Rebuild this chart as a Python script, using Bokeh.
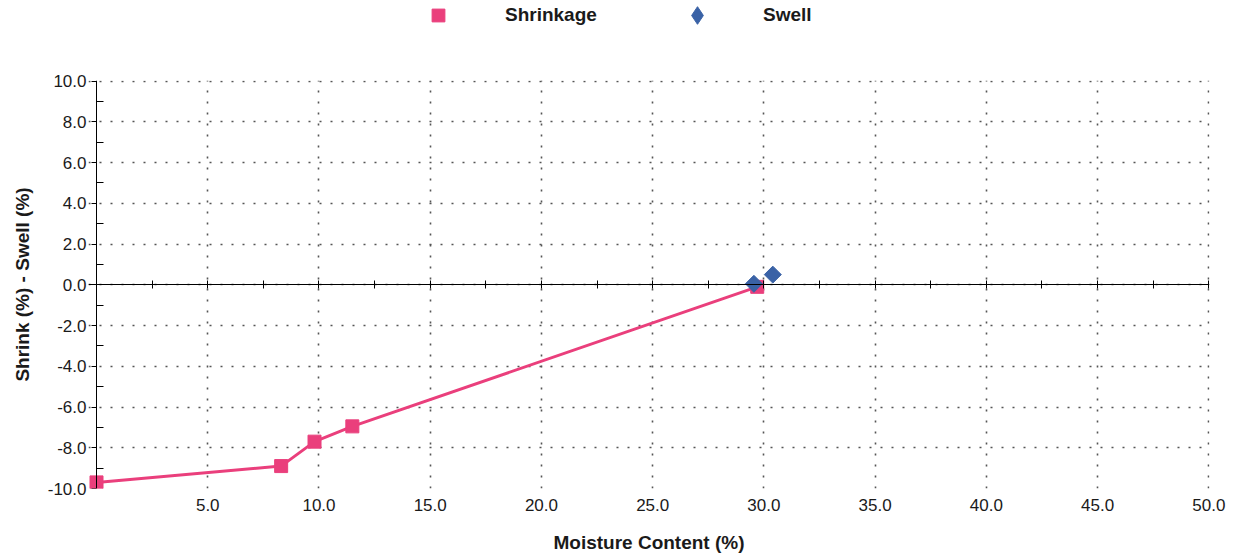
import numpy as np
from bokeh.plotting import figure
from bokeh.layouts import column
from bokeh.models import (Range1d, LinearAxis, FixedTicker, PrintfTickFormatter,
                          CustomJSTickFormatter, Legend, LegendItem)
from bokeh.embed import file_html
from bokeh.resources import INLINE

# ---- data ----
shrink_mc = [0.0, 8.3, 9.8, 11.5, 29.7]
shrink_val = [-9.7, -8.9, -7.7, -6.95, -0.1]
swell_mc = [29.55, 30.4]
swell_val = [0.05, 0.5]

# ---- ticks ----
y_major_ticks = [-10, -8, -6, -4, -2, 0, 2, 4, 6, 8, 10]
y_minor_ticks = [-9, -7, -5, -3, -1, 1, 3, 5, 7, 9]
x_label_ticks = [5, 10, 15, 20, 25, 30, 35, 40, 45, 50]
x_zero_ticks = [2.5, 5, 7.5, 10, 12.5, 15, 17.5, 20, 22.5, 25, 27.5, 30,
                32.5, 35, 37.5, 40, 42.5, 45, 47.5, 50]

PINK = "#EA3F7C"
BLUE = "#3A62A6"
FONT = "Liberation Sans"
TXT = "#1a1a1a"
EMPTY = CustomJSTickFormatter(code="return ''")

# ---------------- main chart ----------------
p = figure(width=1233, height=487, x_range=Range1d(-0.36, 50.03), y_range=Range1d(-10, 10.03),
           output_backend="svg", toolbar_location=None,
           min_border_left=88, min_border_right=24, min_border_top=10, min_border_bottom=69)
p.outline_line_color = None
p.background_fill_color = "white"
p.border_fill_color = "white"

# bottom labelled axis (no line / ticks)
xa = p.xaxis[0]
xa.ticker = FixedTicker(ticks=x_label_ticks, minor_ticks=[])
xa.formatter = PrintfTickFormatter(format="%.1f")
xa.axis_line_color = None
xa.major_tick_line_color = None
xa.minor_tick_line_color = None
xa.major_tick_in = 0
xa.major_tick_out = 0
xa.minor_tick_in = 0
xa.minor_tick_out = 0
xa.major_label_standoff = 10
xa.major_label_text_font = FONT
xa.major_label_text_font_size = "17px"
xa.major_label_text_color = TXT
xa.axis_label = "Moisture Content (%)"
xa.axis_label_text_font = FONT
xa.axis_label_text_font_style = "bold"
xa.axis_label_text_font_size = "19px"
xa.axis_label_text_color = TXT
xa.axis_label_standoff = 18

# left labelled axis (labels + title only)
ya = p.yaxis[0]
ya.ticker = FixedTicker(ticks=y_major_ticks, minor_ticks=[])
ya.formatter = PrintfTickFormatter(format="%.1f")
ya.axis_line_color = None
ya.major_tick_line_color = None
ya.minor_tick_line_color = None
ya.major_tick_in = 0
ya.major_tick_out = 0
ya.minor_tick_in = 0
ya.minor_tick_out = 0
ya.major_label_standoff = 2
ya.major_label_text_font = FONT
ya.major_label_text_font_size = "17px"
ya.major_label_text_color = TXT
ya.axis_label = "Shrink (%) - Swell (%)"
ya.axis_label_text_font = FONT
ya.axis_label_text_font_style = "bold"
ya.axis_label_text_font_size = "19px"
ya.axis_label_text_color = TXT
ya.axis_label_standoff = 12

# y axis line and ticks pinned at x = 0
yline = LinearAxis(fixed_location=0,
                   ticker=FixedTicker(ticks=y_major_ticks, minor_ticks=y_minor_ticks),
                   formatter=EMPTY,
                   axis_line_color="black", major_tick_line_color="black",
                   minor_tick_line_color="black",
                   major_tick_in=0, major_tick_out=5, minor_tick_in=7, minor_tick_out=0,
                   major_label_text_font_size="1px")
p.add_layout(yline, "left")

# zero line axis with ticks both sides
za = LinearAxis(fixed_location=0,
                ticker=FixedTicker(ticks=x_zero_ticks, minor_ticks=[]),
                formatter=EMPTY,
                axis_line_color="black", axis_line_width=1,
                major_tick_line_color="black", major_tick_in=4, major_tick_out=4,
                minor_tick_line_color=None, minor_tick_in=0, minor_tick_out=0,
                major_label_text_font_size="1px")
p.add_layout(za, "below")

# grids
p.xgrid[0].ticker = FixedTicker(ticks=x_label_ticks, minor_ticks=[])
p.ygrid[0].ticker = FixedTicker(ticks=y_major_ticks, minor_ticks=[])
for g in (p.xgrid[0], p.ygrid[0]):
    g.grid_line_color = "#555555"
    g.grid_line_width = 1.6
    g.grid_line_dash = "2 9"

# data
p.line(shrink_mc, shrink_val, line_width=3, color=PINK)
p.scatter(shrink_mc, shrink_val, marker="square", size=13, color=PINK)
p.scatter(swell_mc, swell_val, marker="square", angle=np.pi / 4, size=12, color=BLUE)

# ---------------- legend strip on top ----------------
lg = figure(width=1233, height=70, x_range=Range1d(100, 101), y_range=Range1d(100, 101),
            output_backend="svg", toolbar_location=None,
            x_axis_location=None, y_axis_location=None,
            min_border_left=0, min_border_right=0, min_border_top=0, min_border_bottom=0)
lg.outline_line_color = None
lg.grid.visible = False
lg.background_fill_color = "white"
lg.border_fill_color = "white"
sh2 = lg.scatter(shrink_mc, shrink_val, marker="square", size=13, color=PINK)
sw2 = lg.scatter(swell_mc, swell_val, marker="diamond", size=18, color=BLUE)

common = dict(orientation="horizontal", padding=0, margin=0,
              border_line_color=None, background_fill_alpha=0,
              label_text_font=FONT, label_text_font_style="bold",
              label_text_font_size="19px", label_text_color=TXT)
leg1 = Legend(items=[LegendItem(label="Shrinkage", renderers=[sh2])],
              location=(334, 39), glyph_width=32, glyph_height=32,
              label_standoff=51, **common)
leg2 = Legend(items=[LegendItem(label="Swell", renderers=[sw2])],
              location=(587, 33), glyph_width=44, glyph_height=44,
              label_standoff=44, **common)
lg.add_layout(leg1, "center")
lg.add_layout(leg2, "center")

layout = column(lg, p, spacing=0)
open("out.html", "w").write(file_html(layout, INLINE))
